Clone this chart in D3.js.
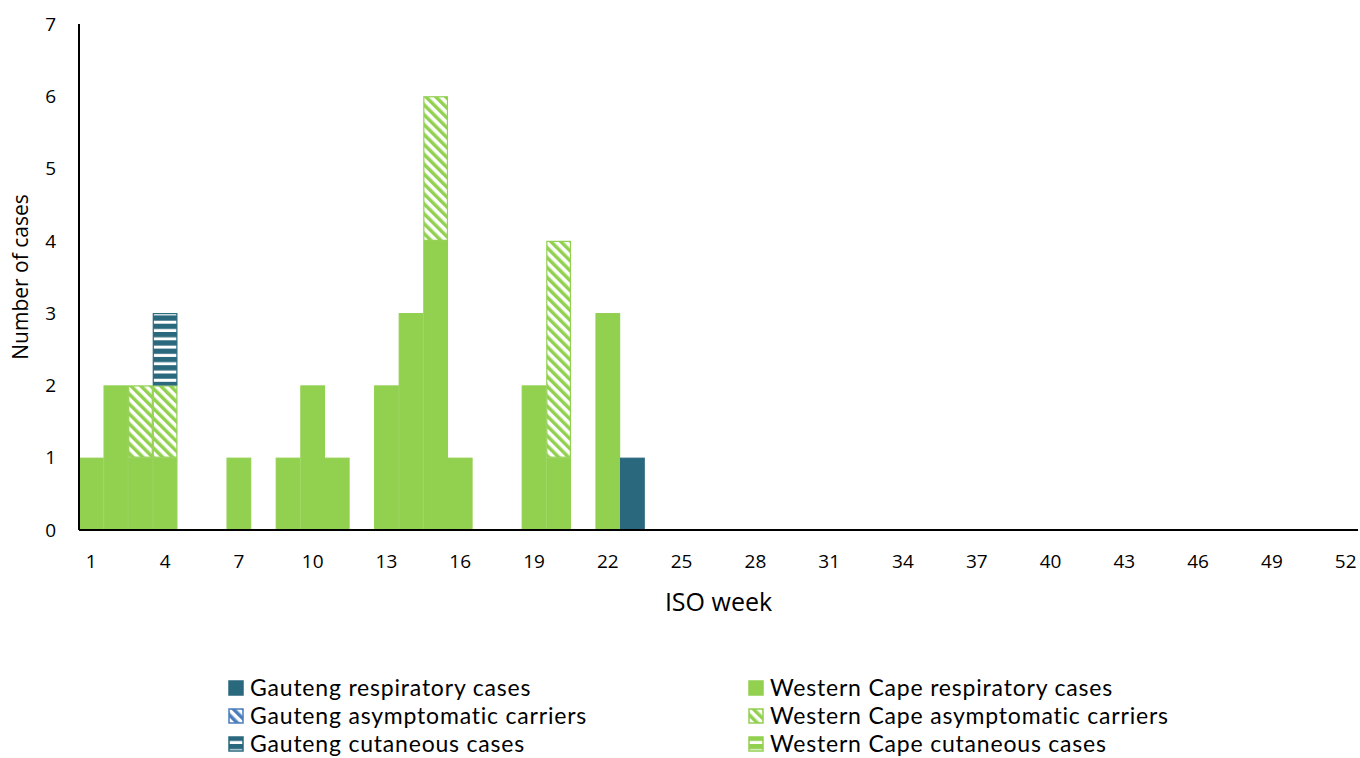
<!DOCTYPE html>
<html>
<head>
<meta charset="utf-8">
<script src="https://cdn.jsdelivr.net/npm/d3@7"></script>
<style>
  body { margin: 0; background: #fff; }
  svg { display: block; font-family: "Open Sans", sans-serif; }
  .tick-label { font-size: 19px; fill: #000; }
  .x-title { font-size: 25px; fill: #000; }
  .y-title { font-size: 21px; fill: #000; }
  .legend-text { font-family: Lato, sans-serif; font-size: 23px; letter-spacing: 0.8px; fill: #000; }
</style>
</head>
<body>
<svg id="chart" width="1360" height="758"></svg>
<script>
// ISO weeks 1..52
const weeks = d3.range(1, 53);

// cases per week (index 0 = week 1)
const wcResp   = [1,2,1,1,0,0,1,0,1,2,1,0,2,3,4,1,0,0,2,1,0,3,0,0,0,0,0,0,0,0,0,0,0,0,0,0,0,0,0,0,0,0,0,0,0,0,0,0,0,0,0,0];
const wcAsym   = [0,0,1,1,0,0,0,0,0,0,0,0,0,0,2,0,0,0,0,3,0,0,0,0,0,0,0,0,0,0,0,0,0,0,0,0,0,0,0,0,0,0,0,0,0,0,0,0,0,0,0,0];
const wcCut    = new Array(52).fill(0);
const gResp    = [0,0,0,0,0,0,0,0,0,0,0,0,0,0,0,0,0,0,0,0,0,0,1,0,0,0,0,0,0,0,0,0,0,0,0,0,0,0,0,0,0,0,0,0,0,0,0,0,0,0,0,0];
const gAsym    = new Array(52).fill(0);
const gCut     = [0,0,0,1,0,0,0,0,0,0,0,0,0,0,0,0,0,0,0,0,0,0,0,0,0,0,0,0,0,0,0,0,0,0,0,0,0,0,0,0,0,0,0,0,0,0,0,0,0,0,0,0];

const yTicks = [0,1,2,3,4,5,6,7];
const xTickWeeks = [1,4,7,10,13,16,19,22,25,28,31,34,37,40,43,46,49,52];

const GREEN = '#92d050', TEAL = '#2a687d', BLUE = '#4a7ebb';

// stack order bottom -> top
const series = [
  { key: 'wcResp', name: 'Western Cape respiratory cases',     values: wcResp, fill: GREEN,             stroke: GREEN },
  { key: 'wcAsym', name: 'Western Cape asymptomatic carriers', values: wcAsym, fill: 'url(#p-wc-asym)', stroke: GREEN },
  { key: 'wcCut',  name: 'Western Cape cutaneous cases',       values: wcCut,  fill: 'url(#p-wc-cut)',  stroke: GREEN },
  { key: 'gResp',  name: 'Gauteng respiratory cases',          values: gResp,  fill: TEAL,              stroke: TEAL },
  { key: 'gAsym',  name: 'Gauteng asymptomatic carriers',      values: gAsym,  fill: 'url(#p-g-asym)',  stroke: BLUE },
  { key: 'gCut',   name: 'Gauteng cutaneous cases',            values: gCut,   fill: 'url(#p-g-cut)',   stroke: TEAL }
];

// legend order as laid out (two columns)
const legendCols = [['gResp','gAsym','gCut'], ['wcResp','wcAsym','wcCut']];

const svg = d3.select('#chart');
const margin = { left: 79, right: 2, top: 24, bottom: 228 };
const W = 1360, H = 758;

const x = d3.scaleBand().domain(weeks).range([margin.left, W - margin.right]).padding(0);
const y = d3.scaleLinear().domain([0, 7]).range([H - margin.bottom, margin.top]);

// patterns
const defs = svg.append('defs');

function diagPattern(id, color, bg, size, lineW) {
  const p = defs.append('pattern').attr('id', id)
    .attr('patternUnits', 'userSpaceOnUse')
    .attr('width', size).attr('height', size)
    .attr('patternTransform', 'rotate(-45)');
  p.append('rect').attr('width', size).attr('height', size).attr('fill', bg);
  p.append('rect').attr('width', lineW).attr('height', size).attr('fill', color);
}
function horizPattern(id, color, size, whiteH) {
  const p = defs.append('pattern').attr('id', id)
    .attr('patternUnits', 'userSpaceOnUse')
    .attr('width', 10).attr('height', size);
  p.append('rect').attr('width', 10).attr('height', size).attr('fill', color);
  p.append('rect').attr('y', size - whiteH).attr('width', 10).attr('height', whiteH).attr('fill', '#fff');
}
diagPattern('p-wc-asym', GREEN, '#fff', 7, 3.5);
diagPattern('p-g-asym', BLUE, '#fff', 7, 3.5);
horizPattern('p-wc-cut', GREEN, 8.3, 3);
horizPattern('p-g-cut', TEAL, 8.3, 3);

// stacked bars
const table = weeks.map((w, i) => {
  const row = { week: w };
  series.forEach(s => { row[s.key] = s.values[i]; });
  return row;
});
const stacked = d3.stack().keys(series.map(s => s.key))(table);

const barsG = svg.append('g');
stacked.forEach((layer, li) => {
  const s = series[li];
  barsG.append('g').selectAll('rect')
    .data(layer.filter(d => d[1] - d[0] > 0))
    .join('rect')
    .attr('x', d => x(d.data.week) + 0.5)
    .attr('width', x.bandwidth() - 1)
    .attr('y', d => y(d[1]) + 0.5)
    .attr('height', d => y(d[0]) - y(d[1]) - 1)
    .attr('fill', s.fill)
    .attr('stroke', s.stroke)
    .attr('stroke-width', 1.2);
});

// axes lines
svg.append('line')
  .attr('x1', margin.left).attr('x2', margin.left)
  .attr('y1', y(7)).attr('y2', y(0))
  .attr('stroke', '#000').attr('stroke-width', 2);
svg.append('line')
  .attr('x1', margin.left).attr('x2', W - margin.right)
  .attr('y1', y(0)).attr('y2', y(0))
  .attr('stroke', '#000').attr('stroke-width', 2);

// y tick labels
svg.append('g').selectAll('text')
  .data(yTicks)
  .join('text')
  .attr('class', 'tick-label')
  .attr('x', 56)
  .attr('y', d => y(d))
  .attr('dy', '0.35em')
  .attr('text-anchor', 'end')
  .text(d => d);

// x tick labels
svg.append('g').selectAll('text')
  .data(xTickWeeks)
  .join('text')
  .attr('class', 'tick-label')
  .attr('x', d => x(d) + x.bandwidth() / 2)
  .attr('y', y(0) + 38)
  .attr('text-anchor', 'middle')
  .text(d => d);

// axis titles
svg.append('text')
  .attr('class', 'x-title')
  .attr('x', (margin.left + W - margin.right) / 2)
  .attr('y', 611)
  .attr('text-anchor', 'middle')
  .text('ISO week');

svg.append('text')
  .attr('class', 'y-title')
  .attr('transform', `translate(28,${(y(0) + y(7)) / 2}) rotate(-90)`)
  .attr('text-anchor', 'middle')
  .text('Number of cases');

// legend
const legendX = [228, 748];
const legendY = [688, 716, 744];
legendCols.forEach((col, ci) => {
  col.forEach((key, ri) => {
    const s = series.find(d => d.key === key);
    const g = svg.append('g').attr('transform', `translate(${legendX[ci]},${legendY[ri]})`);
    g.append('rect')
      .attr('x', 1).attr('y', -7)
      .attr('width', 14).attr('height', 14)
      .attr('fill', s.fill)
      .attr('stroke', s.stroke)
      .attr('stroke-width', 1.5);
    g.append('text')
      .attr('class', 'legend-text')
      .attr('x', 22)
      .attr('dy', '0.35em')
      .text(s.name);
  });
});
</script>
</body>
</html>
